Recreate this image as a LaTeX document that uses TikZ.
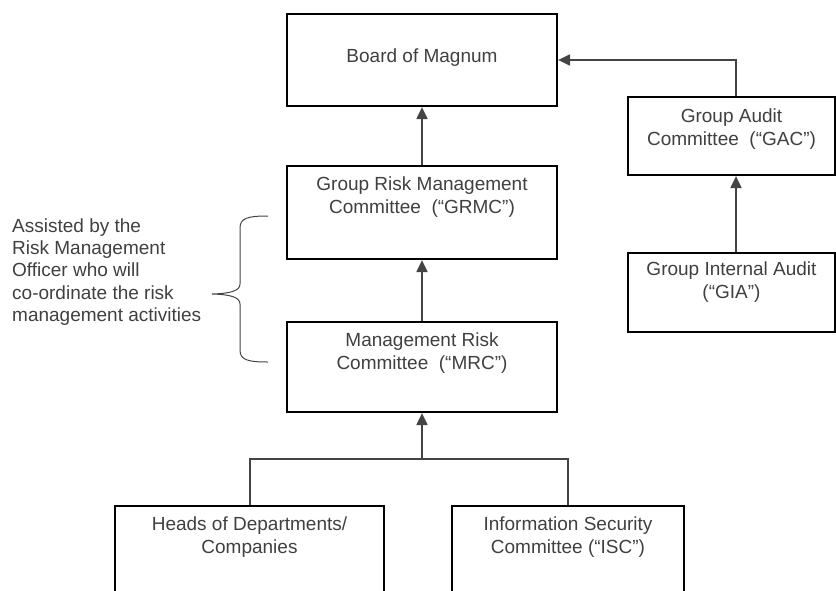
\documentclass[tikz,border=0pt]{standalone}
\usepackage{fontspec}
\setmainfont{Liberation Sans}
\usetikzlibrary{arrows.meta}
\definecolor{txtgray}{HTML}{404040}
\definecolor{linegray}{HTML}{444444}
\begin{document}
\begin{tikzpicture}[x=1pt,y=-1pt,
  box/.style={draw=black, line width=2.2pt, inner sep=0pt, fill=white},
  txt/.style={text=txtgray, font=\fontsize{19}{23}\selectfont, align=center, inner sep=0pt},
  conn/.style={draw=linegray, line width=2pt, -{Triangle[length=12pt,width=11pt]}},
  plain/.style={draw=linegray, line width=2pt},
  bracestyle/.style={draw=linegray, line width=1pt}
]
\useasboundingbox (0,0) rectangle (836,590);
\clip (0,0) rectangle (836,590);

% boxes
\node[box, minimum width=270pt, minimum height=92pt] (board) at (422,60) {};
\node[txt] (boardt) at (422,58) {Board of Magnum};
\node[box, minimum width=270pt, minimum height=93pt] (grmc) at (422,212.5) {};
\node[txt] (grmct) at ([yshift=-32pt]grmc.north) {Group Risk Management\\Committee\ \ (“GRMC”)};
\node[box, minimum width=270pt, minimum height=90pt] (mrc) at (422,367) {};
\node[txt] (mrct) at ([yshift=-32pt]mrc.north) {Management Risk\\Committee\ \ (“MRC”)};
\node[box, minimum width=207pt, minimum height=78pt] (gac) at (731.5,136) {};
\node[txt] (gact) at ([yshift=-33pt]gac.north) {Group Audit\\Committee\ \ (“GAC”)};
\node[box, minimum width=207pt, minimum height=79pt] (gia) at (731.5,292.5) {};
\node[txt] (giat) at ([yshift=-30pt]gia.north) {Group Internal Audit\\(“GIA”)};
\node[box, minimum width=269pt, minimum height=108pt] (heads) at (249.5,560) {};
\node[txt] (headst) at ([yshift=-32pt]heads.north) {Heads of Departments/\\Companies};
\node[box, minimum width=232pt, minimum height=108pt] (isc) at (568,560) {};
\node[txt] (isct) at ([yshift=-32pt]isc.north) {Information Security\\Committee (“ISC”)};

% connectors
\coordinate (gacx) at (736,0);
\coordinate (hx) at (250,0);
\coordinate (ix) at (568,0);
\coordinate (junc) at (422,459);
\draw[conn] (grmc.north) -- (board.south);
\draw[conn] (mrc.north) -- (grmc.south);
\draw[conn] (gac.north -| gacx) |- (board.east);
\draw[conn] (gia.north -| gacx) -- (gac.south -| gacx);
\draw[plain] (heads.north -| hx) -- (hx |- junc) -- (ix |- junc) -- (isc.north -| ix);
\draw[conn] (junc) -- (mrc.south);

% brace
\draw[bracestyle] (268,216) .. controls (248,216) and (240,218) .. (240,228)
  -- (240,284) .. controls (240,291) and (230,293.5) .. (212,294)
  .. controls (230,294.5) and (240,297) .. (240,304)
  -- (240,350) .. controls (240,360) and (248,362) .. (268,362);

% note
\node[txt, align=left, anchor=west, font=\fontsize{19}{22.3}\selectfont] (note) at (12,272)
  {Assisted by the\\Risk Management\\Officer who will\\co-ordinate the risk\\management activities};
\end{tikzpicture}
\end{document}
